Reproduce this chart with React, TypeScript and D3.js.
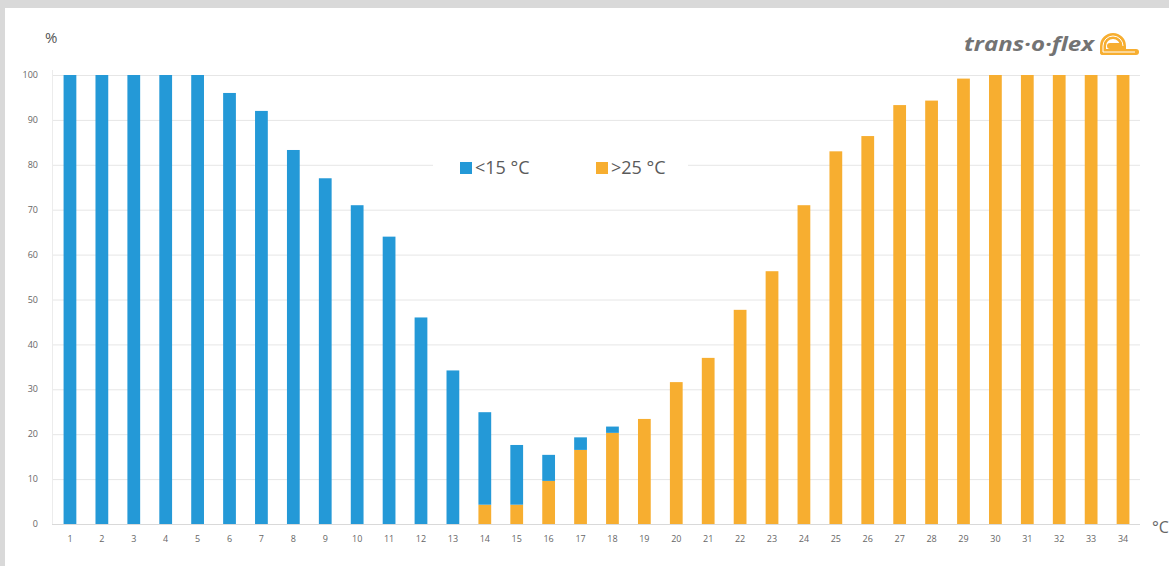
import React, { useEffect, useRef } from 'react';
import * as d3 from 'd3';

const categories = d3.range(1, 35).map(String);
// share of shipments below 15 °C and above 25 °C, in %
const cold = [100, 100, 100, 100, 100, 96, 92, 83.3, 77, 71, 64, 46, 34.2, 20.6, 13.3, 5.8, 2.8, 1.4, 0, 0, 0, 0, 0, 0, 0, 0, 0, 0, 0, 0, 0, 0, 0, 0];
const hot = [0, 0, 0, 0, 0, 0, 0, 0, 0, 0, 0, 0, 0, 4.3, 4.3, 9.6, 16.5, 20.3, 23.4, 31.6, 37, 47.7, 56.3, 71, 83, 86.4, 93.3, 94.3, 99.2, 100, 100, 100, 100, 100];
const yTicks = [0, 10, 20, 30, 40, 50, 60, 70, 80, 90, 100];
const seriesNames = ['<15 °C', '>25 °C'];

const BLUE = '#2499d7';
const ORANGE = '#f7ae30';

const App: React.FC = () => {
  const svgRef = useRef<SVGSVGElement>(null);

  useEffect(() => {
    document.body.style.margin = '0';
    if (!svgRef.current) return;
    const svg = d3.select(svgRef.current);
    svg.selectAll('*').remove();

    const width = 1169;
    const height = 566;
    const left = 52, right = 1140, top = 75, bottom = 524;

    svg.attr('width', width).attr('height', height);

    // grey frame around the white panel
    svg.append('rect').attr('width', width).attr('height', height).attr('fill', '#d9d9d9');
    svg.append('rect').attr('x', 5).attr('y', 8).attr('width', width - 5).attr('height', height - 8).attr('fill', '#fff');

    const x = d3.scaleBand<string>().domain(categories).range([54, 1139]).paddingInner(0.6).paddingOuter(0.3);
    const y = d3.scaleLinear().domain([0, 100]).range([bottom, top]);

    const font = '"Open Sans", "DejaVu Sans", sans-serif';

    // gridlines
    svg.append('g')
      .selectAll('line')
      .data(yTicks.filter(t => t > 0))
      .enter()
      .append('line')
      .attr('x1', left)
      .attr('x2', right)
      .attr('y1', d => y(d) + 0.5)
      .attr('y2', d => y(d) + 0.5)
      .attr('stroke', '#e6e6e6')
      .attr('stroke-width', 1);

    // axes lines
    svg.append('line')
      .attr('x1', left + 0.5).attr('x2', left + 0.5)
      .attr('y1', top - 5).attr('y2', bottom)
      .attr('stroke', '#ececec');
    svg.append('line')
      .attr('x1', left).attr('x2', right)
      .attr('y1', bottom + 0.5).attr('y2', bottom + 0.5)
      .attr('stroke', '#d9d9d9');

    // stacked bars: >25 °C at the bottom, <15 °C on top
    const rows = categories.map((c, i) => ({ cat: c, hot: hot[i], cold: cold[i] }));
    const stacked = d3.stack<any>().keys(['hot', 'cold'])(rows);
    const colors: Record<string, string> = { hot: ORANGE, cold: BLUE };

    svg.append('g')
      .selectAll('g')
      .data(stacked)
      .enter()
      .append('g')
      .attr('fill', d => colors[d.key])
      .selectAll('rect')
      .data(d => d)
      .enter()
      .append('rect')
      .attr('x', d => x(d.data.cat)!)
      .attr('width', x.bandwidth())
      .attr('y', d => y(d[1]))
      .attr('height', d => y(d[0]) - y(d[1]));

    // y tick labels
    svg.append('g')
      .selectAll('text')
      .data(yTicks)
      .enter()
      .append('text')
      .attr('x', 38)
      .attr('y', d => y(d))
      .attr('dy', '0.35em')
      .attr('text-anchor', 'end')
      .attr('font-family', font)
      .attr('font-size', 9)
      .attr('fill', '#666')
      .text(d => d);

    // x tick labels
    svg.append('g')
      .selectAll('text')
      .data(categories)
      .enter()
      .append('text')
      .attr('x', d => x(d)! + x.bandwidth() / 2)
      .attr('y', 539)
      .attr('dy', '0.35em')
      .attr('text-anchor', 'middle')
      .attr('font-family', font)
      .attr('font-size', 9)
      .attr('fill', '#666')
      .text(d => d);

    // unit labels
    svg.append('text')
      .attr('x', 45).attr('y', 43)
      .attr('font-family', font).attr('font-size', 15).attr('fill', '#555')
      .text('%');
    svg.append('text')
      .attr('x', 1152).attr('y', 533)
      .attr('font-family', font).attr('font-size', 16).attr('fill', '#666')
      .text('°C');

    // legend with white backdrop over the gridline
    const legend = svg.append('g');
    legend.append('rect')
      .attr('x', 433).attr('y', 152).attr('width', 255).attr('height', 30)
      .attr('fill', '#fff');
    const legendX = [460, 596];
    [BLUE, ORANGE].forEach((c, i) => {
      legend.append('rect')
        .attr('x', legendX[i]).attr('y', 162).attr('width', 12).attr('height', 12)
        .attr('fill', c);
      legend.append('text')
        .attr('x', legendX[i] + 15).attr('y', 168)
        .attr('dy', '0.35em')
        .attr('font-family', font).attr('font-size', 18).attr('fill', '#5a5a5a')
        .text(seriesNames[i]);
    });

    // logo
    svg.append('text')
      .attr('x', 964).attr('y', 51)
      .attr('font-family', '"Open Sans", "DejaVu Sans", sans-serif')
      .attr('font-style', 'italic')
      .attr('font-weight', 700)
      .attr('font-size', 19)
      .attr('fill', '#737373')
      .attr('textLength', 130)
      .attr('lengthAdjust', 'spacingAndGlyphs')
      .text('trans·o·flex');
    const logo = svg.append('g');
    logo.append('path')
      .attr('d', 'M1103,52 L1103,46 A10,10 0 0 1 1123,46 L1110,46')
      .attr('fill', 'none').attr('stroke', ORANGE).attr('stroke-width', 6).attr('stroke-linecap', 'round');
    logo.append('path')
      .attr('d', 'M1103,52 L1136,52')
      .attr('fill', 'none').attr('stroke', ORANGE).attr('stroke-width', 6).attr('stroke-linecap', 'round');
    logo.append('path')
      .attr('d', 'M1103,52 L1103,46 A10,10 0 0 1 1123,46')
      .attr('fill', 'none').attr('stroke', '#fff').attr('stroke-width', 1);
    logo.append('path')
      .attr('d', 'M1103,52 L1135,52')
      .attr('fill', 'none').attr('stroke', '#fff').attr('stroke-width', 1);
  }, []);

  return <svg ref={svgRef} style={{ display: 'block' }}></svg>;
};

export default App;
